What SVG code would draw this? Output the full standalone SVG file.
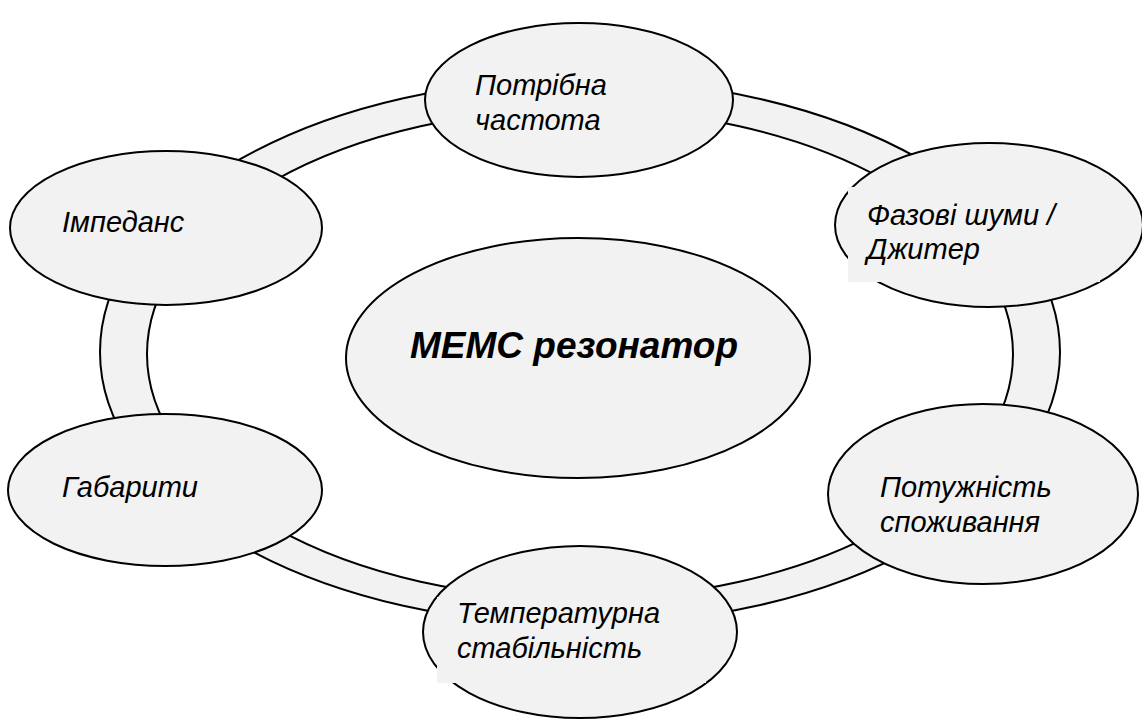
<svg xmlns="http://www.w3.org/2000/svg" width="1142" height="719" viewBox="0 0 1142 719">
  <style>
    .shape { fill: #f2f2f2; stroke: #000; stroke-width: 2; }
    .hole { fill: #fff; stroke: #000; stroke-width: 2; }
    .pad { fill: #f2f2f2; stroke: none; }
    .lbl { font-family: "Liberation Sans", Arial, sans-serif; font-style: italic; font-size: 29px; fill: #000; }
    .title { font-family: "Liberation Sans", Arial, sans-serif; font-style: italic; font-weight: bold; font-size: 37px; fill: #000; }
  </style>

  <rect width="1142" height="719" fill="#fff"/>

  <!-- ring that links the surrounding parameters -->
  <g id="connectors">
    <ellipse class="shape" cx="580" cy="352" rx="480" ry="273"/>
    <ellipse class="hole" cx="580" cy="354" rx="433" ry="245"/>
  </g>

  <g id="node-center">
    <ellipse class="shape" cx="578" cy="358" rx="232" ry="120"/>
    <text class="title" x="410" y="358">МЕМС резонатор</text>
  </g>

  <g id="node-frequency">
    <ellipse class="shape" cx="579" cy="100" rx="154" ry="77"/>
    <text class="lbl" x="475" y="95">Потрібна</text>
    <text class="lbl" x="475" y="130">частота</text>
  </g>

  <g id="node-impedance">
    <ellipse class="shape" cx="166" cy="228" rx="156" ry="77"/>
    <text class="lbl" x="62" y="232">Імпеданс</text>
  </g>

  <g id="node-noise">
    <ellipse class="shape" cx="989" cy="225" rx="154" ry="82"/>
    <!-- text frame laid over the outline -->
    <rect class="pad" x="848" y="187" width="252" height="95"/>
    <text class="lbl" x="867" y="225">Фазові шуми /</text>
    <text class="lbl" x="867" y="259">Джитер</text>
  </g>

  <g id="node-power">
    <ellipse class="shape" cx="983" cy="494" rx="155" ry="90"/>
    <text class="lbl" x="880" y="497">Потужність</text>
    <text class="lbl" x="880" y="532">споживання</text>
  </g>

  <g id="node-size">
    <ellipse class="shape" cx="165" cy="490" rx="157" ry="76"/>
    <text class="lbl" x="62" y="497">Габарити</text>
  </g>

  <g id="node-temperature">
    <ellipse class="shape" cx="580" cy="632" rx="157" ry="86"/>
    <!-- text frame laid over the outline -->
    <rect class="pad" x="437" y="597" width="269" height="86"/>
    <text class="lbl" x="457" y="623">Температурна</text>
    <text class="lbl" x="457" y="658">стабільність</text>
  </g>
</svg>
